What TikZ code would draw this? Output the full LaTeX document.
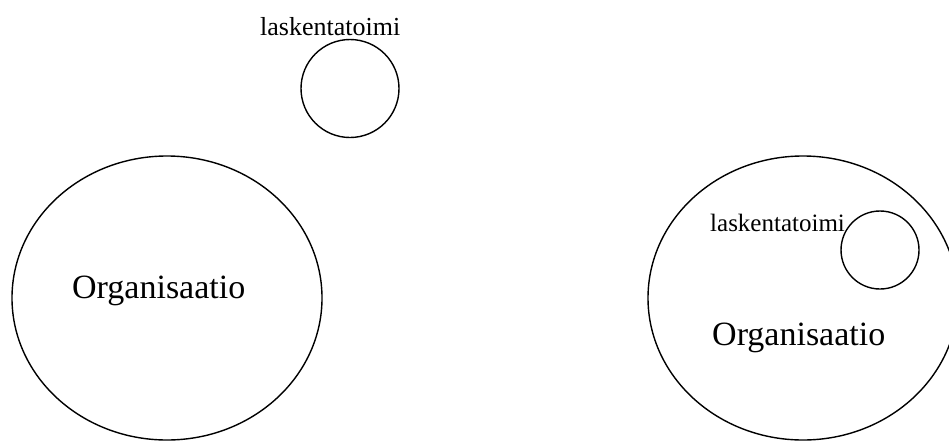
\documentclass[tikz,border=0pt]{standalone}
\usepackage{fontspec}
\setmainfont{Liberation Serif}
\usetikzlibrary{shapes.geometric}
\begin{document}
\begin{tikzpicture}[x=1pt,y=-1pt,
  shapeline/.style={draw=black, line width=1.4pt, inner sep=0pt},
  oval/.style={shapeline, ellipse},
  ring/.style={shapeline, circle},
  small/.style={inner sep=0pt, anchor=base west, font=\fontsize{26}{28}\selectfont},
  big/.style={inner sep=0pt, anchor=base west, font=\fontsize{34}{38}\selectfont}]
\useasboundingbox (0,0) rectangle (949,442);
% left
\node[oval, minimum width=310pt, minimum height=284pt] (orgL) at (167,298) {};
\node[big] (orgLt) at (72,298) {Organisaatio};
\node[ring, minimum size=98pt] (laskT) at (350,88.5) {};
\node[small] (laskTt) at (260,35) {laskentatoimi};
% right
\node[oval, minimum width=310pt, minimum height=284pt] (orgR) at (803,298) {};
\node[ring, minimum size=78pt] (laskR) at (880,250) {};
\node[small, font=\fontsize{25}{27}\selectfont] (laskRt) at (710,231) {laskentatoimi};
\node[big] (orgRt) at (712,345) {Organisaatio};
\end{tikzpicture}
\end{document}
